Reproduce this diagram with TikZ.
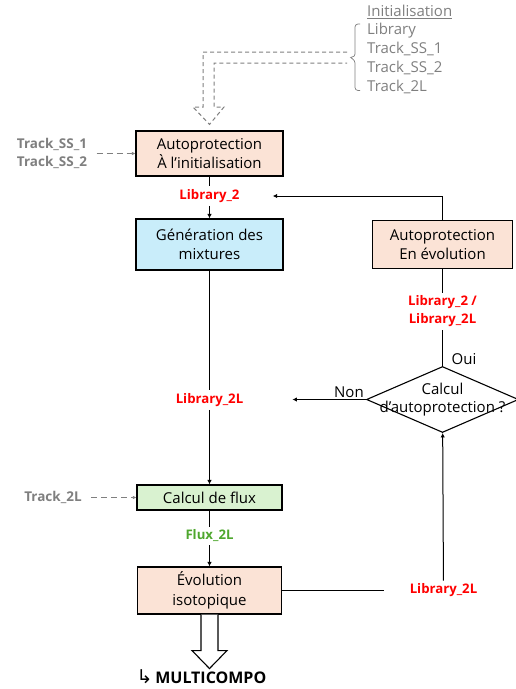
\documentclass[tikz,border=0pt]{standalone}
\usepackage{fontspec}
\setmainfont{Open Sans}
\newfontfamily\symbfont{DejaVu Sans}
\usetikzlibrary{positioning,shapes.geometric,arrows.meta}

\definecolor{peach}{HTML}{FBE3D6}
\definecolor{mixblue}{HTML}{C9EDFA}
\definecolor{fluxfill}{HTML}{D9F2D0}
\definecolor{trackgray}{HTML}{7F7F7F}
\definecolor{libred}{HTML}{FF0000}
\definecolor{fluxtext}{HTML}{4EA72E}

\tikzset{
  box/.style={draw, line width=1.1pt, align=center, inner sep=0pt,
    font=\fontsize{15}{19.5}\selectfont},
  lib/.style={text=libred, align=center, inner sep=3pt,
    font=\bfseries\fontsize{13.2}{18}\selectfont},
  track/.style={text=trackgray, align=center,
    font=\bfseries\fontsize{13.5}{18}\selectfont},
  flow/.style={-{Latex[length=4.5pt,width=4.5pt]}, line width=1pt},
  feed/.style={-{Latex[length=3.5pt,width=3.5pt]}, dashed, dash pattern=on 6pt off 4pt,
    draw=trackgray, line width=1pt},
}

\begin{document}
\begin{tikzpicture}[x=1pt, y=1pt, node distance=1cm]
 \useasboundingbox (0,0) rectangle (516,-689);

 % main column
 \node (init) [box, fill=peach, minimum width=147pt, minimum height=45pt] at (209.5,-153.5)
   {Autoprotection\\À l’initialisation};
 \node (lib2)  [lib, below of=init, node distance=42.5pt] {Library\_2};
 \node (gen)   [box, fill=mixblue, minimum width=147pt, minimum height=51pt,
   below of=lib2, node distance=48.5pt] {Génération des\\mixtures};
 \node (lib2L) [lib, below of=gen, node distance=155.5pt] {Library\_2L};
 \node (flux)  [box, fill=fluxfill, minimum width=145pt, minimum height=25pt,
   below of=lib2L, node distance=97.5pt] {Calcul de flux};
 \node (flux2L) [lib, text=fluxtext, below of=flux, node distance=38.5pt] {Flux\_2L};
 \node (evol)  [box, fill=peach, minimum width=144pt, minimum height=47pt,
   below of=flux2L, node distance=54.5pt] {Évolution\\isotopique};
 \node (multi) [below of=evol, node distance=86.5pt, xshift=-8pt, inner sep=1pt,
   font=\bfseries\fontsize{16}{18}\selectfont]
   {{\symbfont\mdseries\fontsize{19}{18}\selectfont ↳}\,MULTICOMPO};

 % right column
 \node (evoauto) [box, fill=peach, minimum width=140pt, minimum height=48pt,
   right of=gen, node distance=233pt] {Autoprotection\\En évolution};
 \node (libs)  [lib, below of=evoauto, node distance=67pt] {Library\_2 /\\Library\_2L};
 \node (choix) [diamond, draw, line width=1.1pt, minimum width=152pt, minimum height=66pt,
   inner sep=0pt, below of=libs, node distance=88pt] {};
 \node (choixtxt) [box, draw=none, font=\fontsize{15}{18}\selectfont] at (choix)
   {Calcul\\d’autoprotection ?};
 \node (lib2Lr) [lib, right of=evol, node distance=234pt] {Library\_2L};
 \node (oui) [anchor=south west, inner sep=1pt, font=\fontsize{15}{16}\selectfont]
   at ([xshift=8pt]choix.north) {Oui};
 \node (non) [anchor=south east, inner sep=2pt, font=\fontsize{15}{16}\selectfont]
   at (choix.west) {Non};

 % tracking inputs
 \node (ss)  [track, left of=init, node distance=157.5pt] {Track\_SS\_1\\Track\_SS\_2};
 \node (t2l) [track, left of=flux, node distance=156.5pt] {Track\_2L};

 % initialisation list
 \node (initlist) [anchor=west, text=trackgray, inner sep=0pt,
   font=\fontsize{15}{16}\selectfont] at (367,-12) {\underline{Initialisation}};
 \node (datalist) [anchor=north west, align=left, text=trackgray, inner sep=0pt,
   font=\fontsize{15}{18.8}\selectfont] at (367,-23)
   {Library\\Track\_SS\_1\\Track\_SS\_2\\Track\_2L};
 \draw[trackgray, line width=0.7pt, rounded corners=3pt]
   ([xshift=-7pt,yshift=-1pt]datalist.north west) -- ++(-5,0) |- ++(-6,-33)
   -- ++(6,-3) |- ([xshift=-7pt,yshift=3pt]datalist.south west);

 % links
 \draw[line width=1pt] (init) -- (lib2);
 \draw[flow] (lib2) -- (gen);
 \draw[line width=1pt] (gen) -- (lib2L);
 \draw[flow] (lib2L) -- (flux);
 \draw[line width=1pt] (flux) -- (flux2L);
 \draw[flow] (flux2L) -- (evol);
 \draw[line width=1pt] (evoauto) -- (libs);
 \draw[line width=1pt] (libs) -- (choix);
 \draw[flow, shorten >=46pt] (choix.west) -- (choix.west -| lib2L.east);
 \draw[flow, shorten >=30pt] (evoauto.north) |- (lib2.east);
 \draw[line width=1pt, shorten >=23pt] (evol.east) -- (lib2Lr.west);
 \draw[flow] (lib2Lr) -- (choix);
 \draw[feed, shorten <=6pt] (ss) -- (init);
 \draw[feed, shorten <=6pt] (t2l) -- (flux);

 % output to MULTICOMPO
 \draw[line width=1.1pt, fill=white] ([xshift=-8.5pt]evol.south) -- ++(0,-36) -- ++(-9,0)
   -- ++(17.5,-18) -- ++(17.5,18) -- ++(-9,0) -- ++(0,36);

 % initial data into the first step
 \draw[trackgray, dashed, dash pattern=on 4pt off 3pt, line width=1pt]
   (347,-52) -- (203,-52) -- (203,-107) -- (193,-107) -- ([yshift=6pt]init.north)
   -- (224,-107) -- (214,-107) -- (214,-63) -- (347,-63);
\end{tikzpicture}
\end{document}
